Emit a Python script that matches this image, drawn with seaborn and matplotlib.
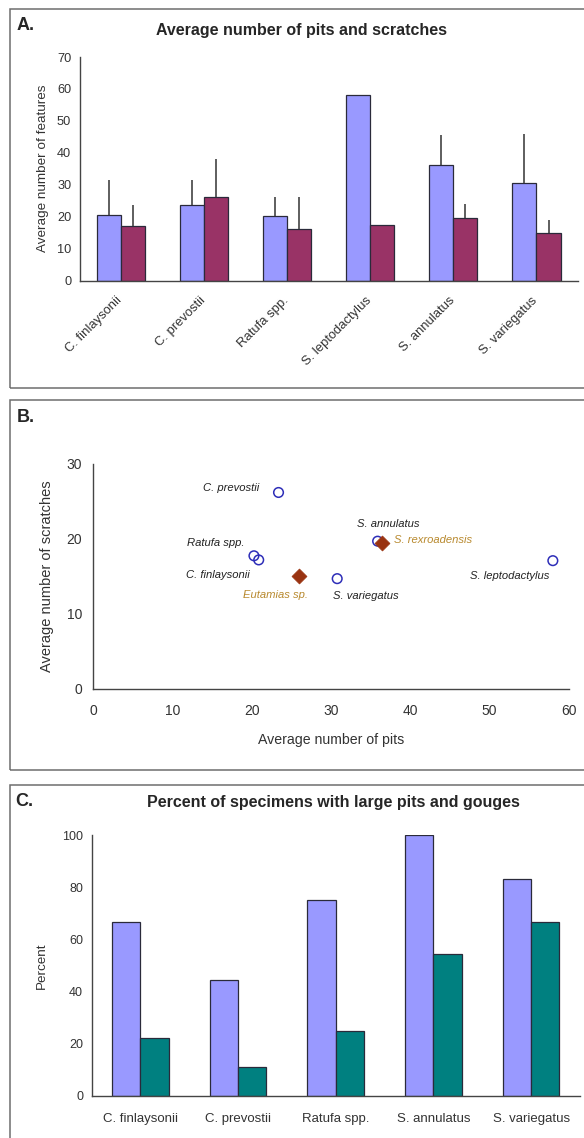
import numpy as np
import pandas as pd
import matplotlib
matplotlib.use("Agg")
import matplotlib.pyplot as plt
import matplotlib.transforms as mtransforms
import seaborn as sns
from matplotlib.patches import Rectangle

# --- data ---
species_a = ["C. finlaysonii", "C. prevostii", "Ratufa spp.",
             "S. leptodactylus", "S. annulatus", "S. variegatus"]
pits_mean = [20.6, 23.6, 20.3, 58.0, 36.2, 30.6]
pits_sd = [10.9, 7.9, 5.9, np.nan, 9.3, 15.4]
scratch_mean = [17.2, 26.2, 16.0, 17.5, 19.5, 15.0]
scratch_sd = [6.4, 12.0, 10.2, np.nan, 4.4, 4.0]

living_species = ["C. prevostii", "Ratufa spp.", "C. finlaysonii",
                  "S. variegatus", "S. annulatus", "S. leptodactylus"]
living_pits = [23.4, 20.3, 20.9, 30.8, 35.9, 58.0]
living_scratches = [26.2, 17.75, 17.2, 14.7, 19.7, 17.1]
fossil_species = ["Eutamias sp.", "S. rexroadensis"]
fossil_pits = [26.0, 36.5]
fossil_scratches = [15.1, 19.4]

species_c = ["C. finlaysonii", "C. prevostii", "Ratufa spp.",
             "S. annulatus", "S. variegatus"]
large_pits = [66.7, 44.4, 75.0, 100.0, 83.3]
gouges = [22.2, 11.1, 25.0, 54.5, 66.7]

sns.set_style("white")
plt.rcParams["font.family"] = ["Liberation Sans", "DejaVu Sans"]

W, H = 584, 1138
fig = plt.figure(figsize=(W / 100, H / 100), dpi=100)


def box(left, top, right, bottom):
    return [left / W, 1 - bottom / H, (right - left) / W, (bottom - top) / H]


def frame(top, bottom):
    fig.patches.append(Rectangle((10 / W, 1 - bottom / H), 600 / W, (bottom - top) / H,
                                 transform=fig.transFigure, fill=False,
                                 edgecolor="#6e6e6e", linewidth=1.1))


axis_col = "#444444"
text_col = "#333333"


def style_axes(ax, size):
    sns.despine(ax=ax)
    for s in ["left", "bottom"]:
        ax.spines[s].set_color(axis_col)
        ax.spines[s].set_linewidth(1.0)
    ax.tick_params(axis="both", colors=axis_col, labelcolor=text_col,
                   labelsize=size, direction="out", length=4, width=1, pad=2)


def bar_panel(ax, cats, s1, s2, colors, size):
    df = pd.DataFrame({"species": cats * 2, "value": s1 + s2,
                       "kind": ["a"] * len(cats) + ["b"] * len(cats)})
    sns.barplot(data=df, x="species", y="value", hue="kind", palette=colors,
                width=0.58, gap=0, errorbar=None, edgecolor="#2a2a3a",
                linewidth=0.9, legend=False, ax=ax, saturation=1)
    n = len(cats)
    ax.set_xlim(-0.5, n - 0.5)
    ax.set_xticks(np.arange(n))
    ax.set_xticklabels(cats)
    style_axes(ax, size)
    ax.tick_params(axis="x", which="major", length=0)
    ax.set_xticks(np.arange(n + 1) - 0.5, minor=True)
    ax.tick_params(axis="x", which="minor", length=4, width=1, colors=axis_col)
    ax.set_xlabel("")


# ---------------- panel A ----------------
frame(9, 388)
axA = fig.add_axes(box(79.5, 57, 578, 280.5))
bar_panel(axA, species_a, pits_mean, scratch_mean, ["#9999FF", "#993366"], 9.4)
for cont, sd in zip(axA.containers, [pits_sd, scratch_sd]):
    xs = [b.get_x() + b.get_width() / 2 for b in cont]
    ys = [b.get_height() for b in cont]
    axA.errorbar(xs, ys, yerr=[np.zeros(len(sd)), sd], fmt="none",
                 ecolor="#333333", elinewidth=1.1, capsize=0, zorder=1)
axA.set_ylim(0, 70)
axA.set_yticks(range(0, 71, 10))
axA.tick_params(axis="y", labelsize=9.2)
axA.tick_params(axis="x", which="major", pad=10)
axA.set_ylabel("Average number of features", fontsize=9.7, color=text_col, labelpad=6)
shift = mtransforms.ScaledTranslation(-5 / 100, 0, fig.dpi_scale_trans)
for lab in axA.get_xticklabels():
    lab.set_rotation(45)
    lab.set_ha("right")
    lab.set_rotation_mode("anchor")
    lab.set_transform(lab.get_transform() + shift)
fig.text(17 / W, 1 - 25 / H, "A.", fontsize=13, fontweight="bold", va="center")
fig.text(301 / W, 1 - 31 / H, "Average number of pits and scratches",
         fontsize=11.5, fontweight="bold", ha="center", va="center")

# ---------------- panel B ----------------
frame(400.5, 770)
axB = fig.add_axes(box(93, 464, 568.7, 688.8))
sns.scatterplot(x=living_pits, y=living_scratches, ax=axB, marker="o", s=48,
                facecolor="none", edgecolor="#2e2eb8", linewidth=1.1, zorder=3)
sns.scatterplot(x=fossil_pits, y=fossil_scratches, ax=axB, marker="D", s=58,
                color="#993311", edgecolor="#993311", linewidth=0.5, zorder=4)
axB.set_xlim(0, 60)
axB.set_ylim(0, 30)
axB.set_xticks(range(0, 61, 10))
axB.set_yticks(range(0, 31, 10))
style_axes(axB, 10)
axB.tick_params(axis="x", pad=7)
axB.tick_params(axis="y", pad=4)
axB.set_xlabel("Average number of pits", fontsize=10.2, color=text_col, labelpad=11)
axB.set_ylabel("Average number of scratches", fontsize=10.5, color=text_col, labelpad=9)

living_offsets = [(-19, 4, "right"), (-9, 13, "right"), (-9, -15, "right"),
                  (-4, -17, "left"), (-21, 17, "left"), (-3, -15, "right")]
for name, x, y, (dx, dy, ha) in zip(living_species, living_pits, living_scratches, living_offsets):
    axB.annotate(name, (x, y), xytext=(dx, dy), textcoords="offset pixels",
                 ha=ha, va="center", fontsize=8.1, style="italic", color="#222222")
fossil_offsets = [(9, -19, "right"), (12, 3, "left")]
for name, x, y, (dx, dy, ha) in zip(fossil_species, fossil_pits, fossil_scratches, fossil_offsets):
    axB.annotate(name, (x, y), xytext=(dx, dy), textcoords="offset pixels",
                 ha=ha, va="center", fontsize=8.1, style="italic", color="#b8892e")
fig.text(17 / W, 1 - 417 / H, "B.", fontsize=13, fontweight="bold", va="center")

# ---------------- panel C ----------------
frame(785, 1150)
axC = fig.add_axes(box(91.5, 835, 580, 1096))
bar_panel(axC, species_c, large_pits, gouges, ["#9999FF", "#008080"], 9.5)
axC.set_ylim(0, 100)
axC.set_yticks(range(0, 101, 20))
axC.tick_params(axis="y", labelsize=9)
axC.set_ylabel("Percent", fontsize=9.7, color=text_col, labelpad=10)
axC.tick_params(axis="x", which="major", pad=12)
fig.text(15 / W, 1 - 801 / H, "C.", fontsize=13, fontweight="bold", va="center")
fig.text(333 / W, 1 - 802 / H, "Percent of specimens with large pits and gouges",
         fontsize=11.5, fontweight="bold", ha="center", va="center")

fig.savefig("out.png", dpi=100)
